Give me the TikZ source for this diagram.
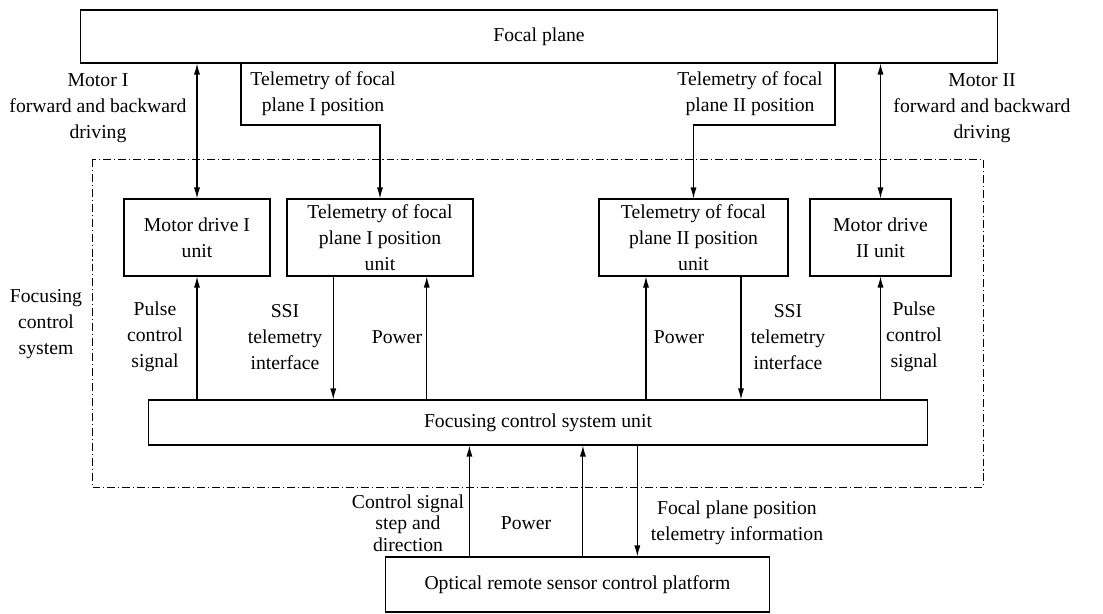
\documentclass[tikz,border=0pt]{standalone}
\usepackage{fontspec}
\setmainfont{Liberation Serif}
\usetikzlibrary{arrows.meta,calc}
\tikzset{
	blk/.style={draw,line width=0.6pt,align=center,inner sep=0pt},
	lbl/.style={align=center,inner sep=0pt},
	sig/.style={line width=0.6pt,-{Latex[length=2.2mm,width=1.2mm]}},
	dsig/.style={line width=0.6pt,{Latex[length=2.2mm,width=1.2mm]}-{Latex[length=2.2mm,width=1.2mm]}},
	frame/.style={line width=0.5pt,dash pattern=on 4.5pt off 1.7pt on 0.6pt off 1.7pt}
}
\begin{document}
\begin{tikzpicture}[x=0.02cm,y=-0.02cm,font=\fontsize{11.2}{14.8}\selectfont]
	\useasboundingbox (0,0) rectangle (1103,614);

	% system frame
	\draw[frame] (92,159) rectangle (983,487);
	\node[lbl] (sysname) at (46,324) {Focusing\\control\\system};

	% blocks
	\node[blk,minimum width=18.36cm,minimum height=1.06cm] (fp) at (539,36.5) {Focal plane};
	\node[blk,minimum width=2.92cm,minimum height=1.54cm] (motA) at (197,237.5) {Motor drive I\\unit};
	\node[blk,minimum width=3.72cm,minimum height=1.54cm] (telA) at (380,237.5) {Telemetry of focal\\plane I position\\unit};
	\node[blk,minimum width=3.78cm,minimum height=1.54cm] (telB) at (693.5,237.5) {Telemetry of focal\\plane II position\\unit};
	\node[blk,minimum width=2.82cm,minimum height=1.54cm] (motB) at (880.5,237.5) {Motor drive\\II unit};
	\node[blk,minimum width=15.6cm,minimum height=0.9cm] (fcs) at (538,422.5) {Focusing control system unit};
	\node[blk,minimum width=7.7cm,minimum height=1.1cm] (plat) at (577.5,584.5) {Optical remote sensor control platform};

	% focal plane to units
	\coordinate (kA) at (241,125);
	\coordinate (kB) at (835,125);
	\draw[dsig] (fp.south -| motA.north) -- (motA.north);
	\draw[sig] (fp.south -| kA) -- (kA) -| (telA.north);
	\draw[sig] (fp.south -| kB) -- (kB) -| (telB.north);
	\draw[dsig] (fp.south -| motB.north) -- (motB.north);

	\node[lbl] (lmotA) at (98,108) {Motor I\\forward and backward\\driving};
	\node[lbl] (ltelA) at (323,94) {Telemetry of focal\\plane I position};
	\node[lbl] (ltelB) at (750,94) {Telemetry of focal\\plane II position};
	\node[lbl] (lmotB) at (982,108) {Motor II\\forward and backward\\driving};

	% units to focusing control system unit
	\coordinate (sA) at ($(telA.south west)!0.25!(telA.south east)$);
	\coordinate (pA) at ($(telA.south west)!0.75!(telA.south east)$);
	\coordinate (pB) at ($(telB.south west)!0.25!(telB.south east)$);
	\coordinate (sB) at ($(telB.south west)!0.75!(telB.south east)$);
	\draw[sig] (fcs.north -| motA.south) -- (motA.south);
	\draw[sig] (sA) -- (sA |- fcs.north);
	\draw[sig] (fcs.north -| pA) -- (pA);
	\draw[sig] (fcs.north -| pB) -- (pB);
	\draw[sig] (sB) -- (sB |- fcs.north);
	\draw[sig] (fcs.north -| motB.south) -- (motB.south);

	\node[lbl] (lpulA) at (155,337) {Pulse\\control\\signal};
	\node[lbl] (lssiA) at (285,337) {SSI\\telemetry\\interface};
	\node[lbl] (lpowA) at (397,337) {Power};
	\node[lbl] (lpowB) at (679,337) {Power};
	\node[lbl] (lssiB) at (788,337) {SSI\\telemetry\\interface};
	\node[lbl] (lpulB) at (914,337) {Pulse\\control\\signal};

	% platform to focusing control system unit
	\coordinate (cP) at ($(plat.north west)!0.22!(plat.north east)$);
	\coordinate (wP) at ($(plat.north west)!0.514!(plat.north east)$);
	\coordinate (tP) at ($(plat.north west)!0.655!(plat.north east)$);
	\draw[sig] (cP) -- (cP |- fcs.south);
	\draw[sig] (wP) -- (wP |- fcs.south);
	\draw[sig] (tP |- fcs.south) -- (tP);

	\node[lbl,font=\fontsize{11.2}{12.2}\selectfont] (lctl) at (408,523) {Control signal\\step and\\direction};
	\node[lbl] (lpowP) at (526,523) {Power};
	\node[lbl] (ltel) at (737,523) {Focal plane position\\telemetry information};
\end{tikzpicture}
\end{document}
